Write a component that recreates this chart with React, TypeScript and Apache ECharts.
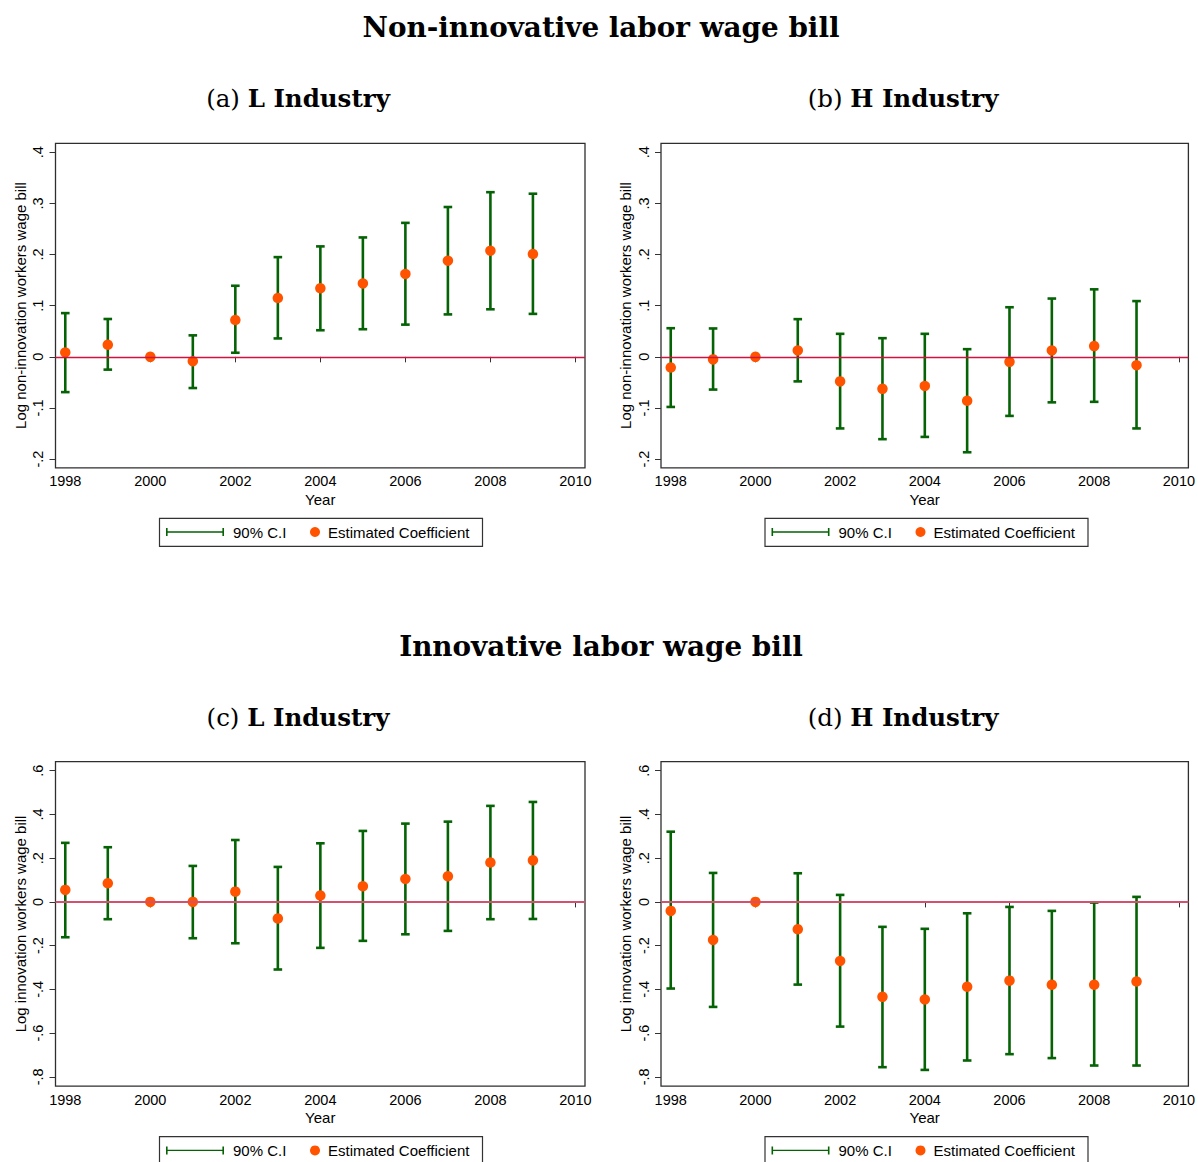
import React, { useEffect, useRef } from "react";
import * as echarts from "echarts";

// ---------- data ----------
const years = [1998, 1999, 2000, 2001, 2002, 2003, 2004, 2005, 2006, 2007, 2008, 2009];

// (a) L Industry, non-innovative labor wage bill
const aCoef = [0.0085, 0.0235, 0, -0.0085, 0.072, 0.115, 0.134, 0.1435, 0.162, 0.188, 0.2075, 0.201];
const aLo = [-0.069, -0.025, null, -0.061, 0.008, 0.036, 0.052, 0.054, 0.063, 0.083, 0.093, 0.084];
const aHi = [0.0855, 0.074, null, 0.042, 0.139, 0.195, 0.216, 0.2335, 0.262, 0.293, 0.322, 0.319];

// (b) H Industry, non-innovative labor wage bill
const bCoef = [-0.021, -0.005, 0, 0.0124, -0.048, -0.0626, -0.057, -0.086, -0.0098, 0.0124, 0.021, -0.0163];
const bLo = [-0.098, -0.064, null, -0.048, -0.14, -0.161, -0.1566, -0.1866, -0.1155, -0.089, -0.088, -0.14];
const bHi = [0.056, 0.0555, null, 0.0737, 0.045, 0.0365, 0.045, 0.015, 0.097, 0.114, 0.132, 0.109];

// (c) L Industry, innovative labor wage bill
const cCoef = [0.055, 0.085, 0, 0.0, 0.047, -0.076, 0.029, 0.0716, 0.105, 0.117, 0.18, 0.19];
const cLo = [-0.1615, -0.079, null, -0.166, -0.189, -0.309, -0.21, -0.178, -0.148, -0.1325, -0.079, -0.078];
const cHi = [0.27, 0.25, null, 0.1645, 0.283, 0.16, 0.268, 0.3245, 0.358, 0.367, 0.439, 0.457];

// (d) H Industry, innovative labor wage bill
const dCoef = [-0.041, -0.174, 0, -0.125, -0.27, -0.434, -0.446, -0.388, -0.36, -0.379, -0.379, -0.364];
const dLo = [-0.396, -0.48, null, -0.378, -0.57, -0.7555, -0.768, -0.725, -0.696, -0.714, -0.748, -0.748];
const dHi = [0.321, 0.1325, null, 0.131, 0.032, -0.114, -0.123, -0.052, -0.023, -0.041, -0.003, 0.023];

const xTicks = [1998, 2000, 2002, 2004, 2006, 2008, 2010];
const yTicksTop = [-0.2, -0.1, 0, 0.1, 0.2, 0.3, 0.4];
const yLabelsTop = ["-.2", "-.1", "0", ".1", ".2", ".3", ".4"];
const yTicksBottom = [-0.8, -0.6, -0.4, -0.2, 0, 0.2, 0.4, 0.6];
const yLabelsBottom = ["-.8", "-.6", "-.4", "-.2", "0", ".2", ".4", ".6"];

const mainTitles = ["Non-innovative labor wage bill", "Innovative labor wage bill"];
const panelTags = ["(a)", "(b)", "(c)", "(d)"];
const panelNames = ["L Industry", "H Industry", "L Industry", "H Industry"];
const yNames = [
  "Log non-innovation workers wage bill",
  "Log non-innovation workers wage bill",
  "Log innovation workers wage bill",
  "Log innovation workers wage bill",
];
const ciName = "90% C.I";
const coefName = "Estimated Coefficient";

// ---------- style / layout ----------
const GREEN = "#056205";
const ORANGE = "#ff5300";
const SANS = "'Liberation Sans', Arial, sans-serif";
const SERIF = "'DejaVu Serif', serif";
const GX = [55.5, 661];
const GY = [143.3, 761.7];
const GW = 529.5;
const GH = 324.5;
const X_MIN = 1997.77;
const X_MAX = 2010.225;

const CI_ICON =
  "path://M0,0h1.6v8h-1.6z M0,3.3h58v1.4h-58z M56.4,0h1.6v8h-1.6z";

type Panel = {
  coef: number[];
  lo: (number | null)[];
  hi: (number | null)[];
  row: number;
  col: number;
  ticks: number[];
  labels: string[];
  min: number;
  max: number;
  zeroColor: string;
  zeroWidth: number;
};

const panels: Panel[] = [
  { coef: aCoef, lo: aLo, hi: aHi, row: 0, col: 0, ticks: yTicksTop, labels: yLabelsTop, min: -0.217, max: 0.4176, zeroColor: "#d3123f", zeroWidth: 1.4 },
  { coef: bCoef, lo: bLo, hi: bHi, row: 0, col: 1, ticks: yTicksTop, labels: yLabelsTop, min: -0.217, max: 0.4176, zeroColor: "#d3123f", zeroWidth: 1.4 },
  { coef: cCoef, lo: cLo, hi: cHi, row: 1, col: 0, ticks: yTicksBottom, labels: yLabelsBottom, min: -0.8425, max: 0.641, zeroColor: "#d4506f", zeroWidth: 2 },
  { coef: dCoef, lo: dLo, hi: dHi, row: 1, col: 1, ticks: yTicksBottom, labels: yLabelsBottom, min: -0.8425, max: 0.641, zeroColor: "#d4506f", zeroWidth: 2 },
];

function buildOption() {
  const grid: any[] = [];
  const xAxis: any[] = [];
  const yAxis: any[] = [];
  const series: any[] = [];
  const legend: any[] = [];
  const graphic: any[] = [];

  panels.forEach((p, i) => {
    const gx = GX[p.col];
    const gy = GY[p.row];
    grid.push({
      left: gx,
      top: gy,
      width: GW,
      height: GH,
      show: true,
      borderColor: "#2e2e2e",
      borderWidth: 1.3,
      backgroundColor: "transparent",
    });
    xAxis.push({
      type: "value",
      gridIndex: i,
      min: X_MIN,
      max: X_MAX,
      axisLine: { show: false },
      splitLine: { show: false },
      axisTick: { show: true, length: 5.5, customValues: xTicks, lineStyle: { color: "#333", width: 1 } },
      axisLabel: {
        customValues: xTicks,
        margin: 6,
        fontSize: 14.5,
        fontFamily: SANS,
        color: "#000",
        formatter: (v: number) => String(Math.round(v)),
      },
      name: "Year",
      nameLocation: "middle",
      nameGap: 24,
      nameTextStyle: { fontSize: 15, fontFamily: SANS, color: "#000" },
    });
    yAxis.push({
      type: "value",
      gridIndex: i,
      min: p.min,
      max: p.max,
      axisLine: { show: false },
      splitLine: { show: false },
      axisTick: { show: true, length: 6, customValues: p.ticks, lineStyle: { color: "#333", width: 1 } },
      axisLabel: {
        customValues: p.ticks,
        rotate: 90,
        margin: 10,
        fontSize: 14.5,
        fontFamily: SANS,
        color: "#000",
        formatter: (v: number) => {
          const k = p.ticks.findIndex((t) => Math.abs(t - v) < 1e-9);
          return k >= 0 ? p.labels[k] : "";
        },
      },
      name: yNames[i],
      nameLocation: "middle",
      nameRotate: 90,
      nameGap: 28,
      nameTextStyle: { fontSize: 15, fontFamily: SANS, color: "#000" },
    });

    // zero reference line
    series.push({
      type: "line",
      xAxisIndex: i,
      yAxisIndex: i,
      data: [],
      z: 1,
      silent: true,
      markLine: {
        silent: true,
        symbol: ["none", "none"],
        label: { show: false },
        lineStyle: { color: p.zeroColor, width: p.zeroWidth, type: "solid" },
        data: [{ yAxis: 0 }],
      },
    });

    // confidence intervals
    const ciData: number[][] = [];
    years.forEach((yr, j) => {
      const lo = p.lo[j];
      const hi = p.hi[j];
      if (lo !== null && hi !== null) ciData.push([yr, lo, hi]);
    });
    series.push({
      type: "custom",
      name: ciName,
      xAxisIndex: i,
      yAxisIndex: i,
      z: 2,
      itemStyle: { color: GREEN },
      encode: { x: 0, y: [1, 2] },
      data: ciData,
      renderItem: (_params: any, api: any) => {
        const x = api.value(0);
        const pLo = api.coord([x, api.value(1)]);
        const pHi = api.coord([x, api.value(2)]);
        const hw = 4.3;
        const style = { stroke: GREEN, lineWidth: 2.6, fill: "none" };
        return {
          type: "group",
          children: [
            { type: "line", shape: { x1: pHi[0], y1: pHi[1], x2: pLo[0], y2: pLo[1] }, style },
            { type: "line", shape: { x1: pHi[0] - hw, y1: pHi[1], x2: pHi[0] + hw, y2: pHi[1] }, style },
            { type: "line", shape: { x1: pLo[0] - hw, y1: pLo[1], x2: pLo[0] + hw, y2: pLo[1] }, style },
          ],
        };
      },
    });

    // point estimates
    series.push({
      type: "scatter",
      name: coefName,
      xAxisIndex: i,
      yAxisIndex: i,
      z: 3,
      symbol: "circle",
      symbolSize: 10.5,
      itemStyle: { color: ORANGE, opacity: 1 },
      data: years.map((yr, j) => [yr, p.coef[j]]),
    });

    // legends
    const legendTop = gy + 388.7 - 8;
    legend.push({
      left: gx + 110.5,
      top: legendTop,
      padding: 0,
      itemWidth: 58,
      itemHeight: 8,
      icon: CI_ICON,
      selectedMode: false,
      data: [ciName],
      textStyle: { fontSize: 15, fontFamily: SANS, color: "#000", lineHeight: 16, padding: [0, 0, 0, 4] },
    });
    legend.push({
      left: gx + 254.5,
      top: legendTop,
      padding: 0,
      itemWidth: 10,
      itemHeight: 10,
      icon: "circle",
      selectedMode: false,
      data: [coefName],
      textStyle: { fontSize: 15, fontFamily: SANS, color: "#000", lineHeight: 16, padding: [0, 0, 0, 3] },
    });
    graphic.push({
      type: "rect",
      shape: { x: gx + 104, y: gy + 375, width: 323, height: 28 },
      style: { fill: "none", stroke: "#333", lineWidth: 1.2 },
      silent: true,
    });

    // panel subtitle
    graphic.push({
      type: "text",
      x: p.col === 0 ? 298 : 903,
      y: p.row === 0 ? 98 : 717,
      silent: true,
      style: {
        text: `{n|${panelTags[i]} }{b|${panelNames[i]}}`,
        align: "center",
        verticalAlign: "middle",
        fill: "#000",
        font: `24.5px ${SERIF}`,
        rich: {
          n: { fontSize: 24.5, fontFamily: SERIF, fontWeight: "normal", fill: "#000" },
          b: { fontSize: 24.5, fontFamily: SERIF, fontWeight: "bold", fill: "#000" },
        },
      },
    });
  });

  mainTitles.forEach((t, r) => {
    graphic.push({
      type: "text",
      x: 601,
      y: r === 0 ? 27 : 646,
      silent: true,
      style: {
        text: t,
        align: "center",
        verticalAlign: "middle",
        fill: "#000",
        font: `bold 27.8px ${SERIF}`,
      },
    });
  });

  return {
    animation: false,
    backgroundColor: "#fff",
    grid,
    xAxis,
    yAxis,
    series,
    legend,
    graphic,
  };
}

export default function App() {
  const ref = useRef<HTMLDivElement>(null);
  useEffect(() => {
    if (!ref.current) return;
    const chart = echarts.init(ref.current, undefined, { renderer: "svg" });
    chart.setOption(buildOption() as any);
    return () => chart.dispose();
  }, []);
  return (
    <div
      ref={ref}
      style={{ position: "absolute", left: 0, top: 0, width: 1198, height: 1162, background: "#fff" }}
    />
  );
}
